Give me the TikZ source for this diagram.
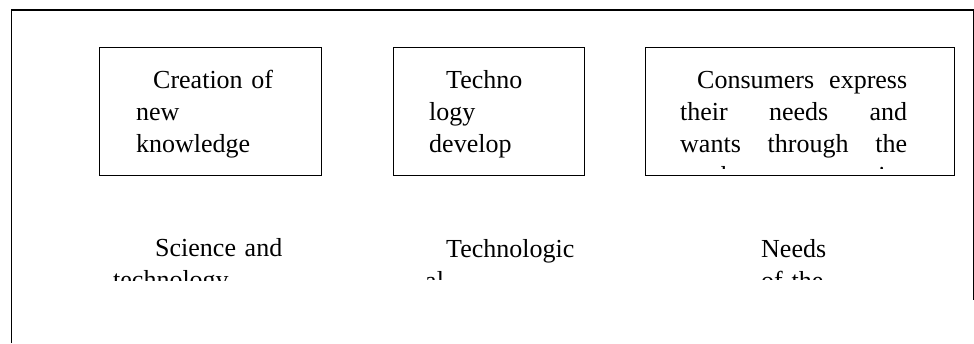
\documentclass[tikz,border=0pt]{standalone}
\usepackage{fontspec}
\setmainfont{Liberation Serif}
\begin{document}
\begin{tikzpicture}[x=1pt, y=-1pt,
frame/.style={line width=1.3pt},
box/.style={draw, line width=0.9pt, inner sep=0pt, anchor=north west, minimum height=128pt},
txt/.style={inner sep=0pt, anchor=base west, text width=260pt, align=left, font=\fontsize{26}{32}\selectfont}]
\useasboundingbox (0,0) rectangle (974,343);
\coordinate (fa) at (11.5,343);
\coordinate (fb) at (11.5,10);
\coordinate (fc) at (973.2,10);
\coordinate (fd) at (973.2,300);
\draw[frame] (fa) -- (fb) -- (fc) -- (fd);
\node[box, minimum width=222pt] (create) at (99,47) {};
\node[box, minimum width=191pt] (develop) at (393,47) {};
\node[box, minimum width=309pt] (express) at (645,47) {};
\begin{scope}
\clip (create.north west) rectangle ([yshift=7pt]create.south east);
\node[txt] (createtext) at (136,88) {\hspace*{17pt}Creation of\\new\\knowledge};
\end{scope}
\begin{scope}
\clip (develop.north west) rectangle ([yshift=7pt]develop.south east);
\node[txt] (developtext) at (429,88) {\hspace*{17pt}Techno\\logy\\develop};
\end{scope}
\begin{scope}
\clip (express.north west) rectangle ([yshift=7pt]express.south east);
\node[txt] (expresstext) at (680,88) {\hspace*{17pt}\makebox[210pt][l]{Consumers\hfill express}\\
  \makebox[227pt][l]{their\hfill needs\hfill and}\\
  \makebox[227pt][l]{wants\hfill through\hfill the}\\
  \makebox[227pt][l]{market\hfill economics}};
\end{scope}
\begin{scope}
\clip (100,200) rectangle (330,280);
\node[txt] (science) at (113,256) {\hspace*{42pt}Science and\\technology};
\end{scope}
\begin{scope}
\clip (400,200) rectangle (640,279);
\node[txt] (technological) at (425,257) {\hspace*{21pt}Technologic\\al};
\end{scope}
\begin{scope}
\clip (740,200) rectangle (960,279);
\node[txt] (needs) at (761,257) {Needs\\of the};
\end{scope}
\end{tikzpicture}
\end{document}
